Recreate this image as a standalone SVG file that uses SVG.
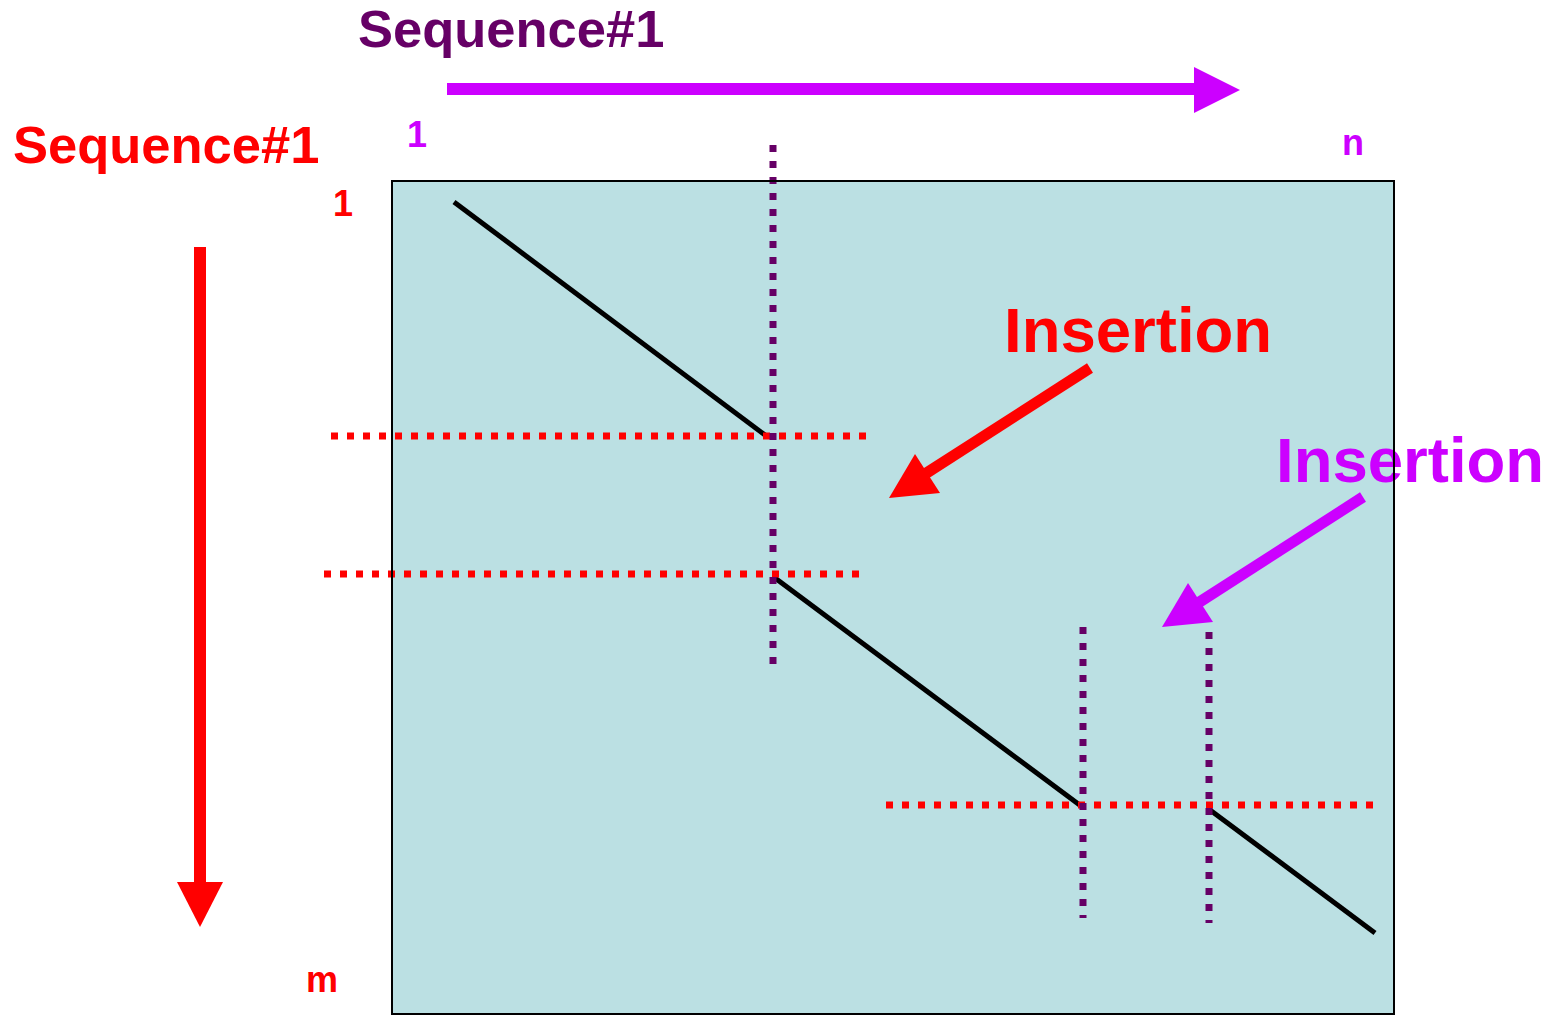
<svg xmlns="http://www.w3.org/2000/svg" width="1552" height="1016" viewBox="0 0 1552 1016">
<style>
text{font-family:"Liberation Sans",Arial,sans-serif;font-weight:bold}
.pur{fill:#660066}.mag{fill:#CC00FF}.red{fill:#FF0000}
.dotr{stroke:#FF0000;stroke-width:7;stroke-dasharray:7 9;fill:none}
.dotp{stroke:#660066;stroke-width:7;stroke-dasharray:7 9;fill:none}
.diag{stroke:#000;stroke-width:5;fill:none}
</style>
<rect width="1552" height="1016" fill="#fff"/>
<g id="matrix">
<rect x="392" y="181" width="1002" height="833" fill="#BBE0E3" stroke="#000" stroke-width="2"/>
</g>
<g id="labels">
<text class="pur" x="358" y="47" font-size="52.5">Sequence#1</text>
<text class="red" x="13" y="163" font-size="52.5">Sequence#1</text>
<text class="mag" x="407" y="147" font-size="36">1</text>
<text class="mag" x="1342" y="155" font-size="36">n</text>
<text class="red" x="333" y="216" font-size="36">1</text>
<text class="red" x="306" y="992" font-size="36">m</text>
</g>
<g id="axis-arrows">
<line x1="447" y1="89" x2="1196" y2="89" stroke="#CC00FF" stroke-width="12"/>
<polygon points="1194,67 1240,90 1194,113" fill="#CC00FF"/>
<line x1="200" y1="247" x2="200" y2="884" stroke="#FF0000" stroke-width="12"/>
<polygon points="177,882 223,882 200,927" fill="#FF0000"/>
</g>
<g id="alignment">
<line class="diag" x1="454" y1="202" x2="765" y2="435"/>
<line class="diag" x1="775" y1="578" x2="1081" y2="806"/>
<line class="diag" x1="1210" y1="810" x2="1375" y2="933"/>
</g>
<g id="gridlines">
<line class="dotr" x1="331" y1="436" x2="868" y2="436"/>
<line class="dotr" x1="324" y1="574" x2="862" y2="574"/>
<line class="dotr" x1="886" y1="805" x2="1376" y2="805"/>
<line class="dotp" x1="773" y1="145" x2="773" y2="665"/>
<line class="dotp" x1="1083" y1="627" x2="1083" y2="918"/>
<line class="dotp" x1="1209" y1="632" x2="1209" y2="923"/>
</g>
<g id="insertion-red">
<text class="red" x="1004" y="352" font-size="63.5">Insertion</text>
<line x1="1090" y1="368" x2="925" y2="474" stroke="#FF0000" stroke-width="11"/>
<polygon points="889,498 915,454 940,493" fill="#FF0000"/>
</g>
<g id="insertion-magenta">
<text class="mag" x="1276" y="482" font-size="63.5">Insertion</text>
<line x1="1363" y1="497" x2="1198" y2="603" stroke="#CC00FF" stroke-width="11"/>
<polygon points="1162,627 1188,583 1213,622" fill="#CC00FF"/>
</g>
<rect x="392" y="181" width="1002" height="833" fill="none" stroke="#000" stroke-width="2"/>
</svg>
